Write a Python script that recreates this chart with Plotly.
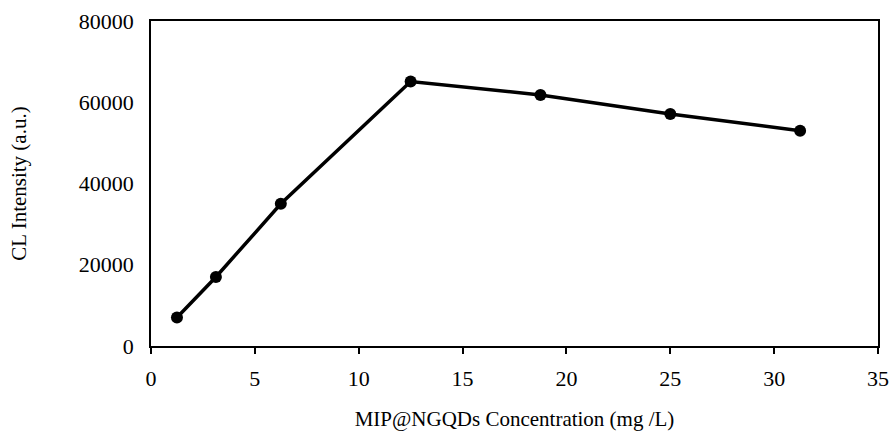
import plotly.graph_objects as go

conc = [1.25, 3.125, 6.25, 12.5, 18.75, 25, 31.25]
intensity = [7000, 17000, 35000, 65100, 61800, 57100, 53000]
x_title = "MIP@NGQDs Concentration (mg /L)"
y_title = "CL Intensity (a.u.)"

font_family = "Liberation Serif, Times New Roman, serif"

fig = go.Figure(
    go.Scatter(
        x=conc, y=intensity, mode="lines+markers",
        line=dict(color="black", width=3.5),
        marker=dict(color="black", size=12),
        showlegend=False,
    )
)

fig.update_layout(
    width=892, height=436,
    margin=dict(l=151, r=14, t=21, b=90, autoexpand=False),
    paper_bgcolor="white", plot_bgcolor="white",
    font=dict(family=font_family, size=22, color="black"),
)
fig.update_xaxes(
    range=[0, 35], dtick=5, tick0=0, automargin=False,
    showgrid=False, zeroline=False,
    showline=True, linecolor="black", linewidth=1.5, mirror=True,
    ticks="outside", ticklen=6, tickwidth=1.5, tickcolor="black",
    ticklabelstandoff=6,
    title=dict(text=x_title, font=dict(size=21), standoff=21),
    tickfont=dict(size=22),
)
fig.update_yaxes(
    range=[0, 80000], dtick=20000, tick0=0, tickformat="d", automargin=False,
    showgrid=False, zeroline=False,
    showline=True, linecolor="black", linewidth=1.5, mirror=True,
    ticks="", ticklabelstandoff=11,
    title=dict(text=y_title, font=dict(size=21), standoff=46),
    tickfont=dict(size=22),
)

fig.write_html("out.html")
